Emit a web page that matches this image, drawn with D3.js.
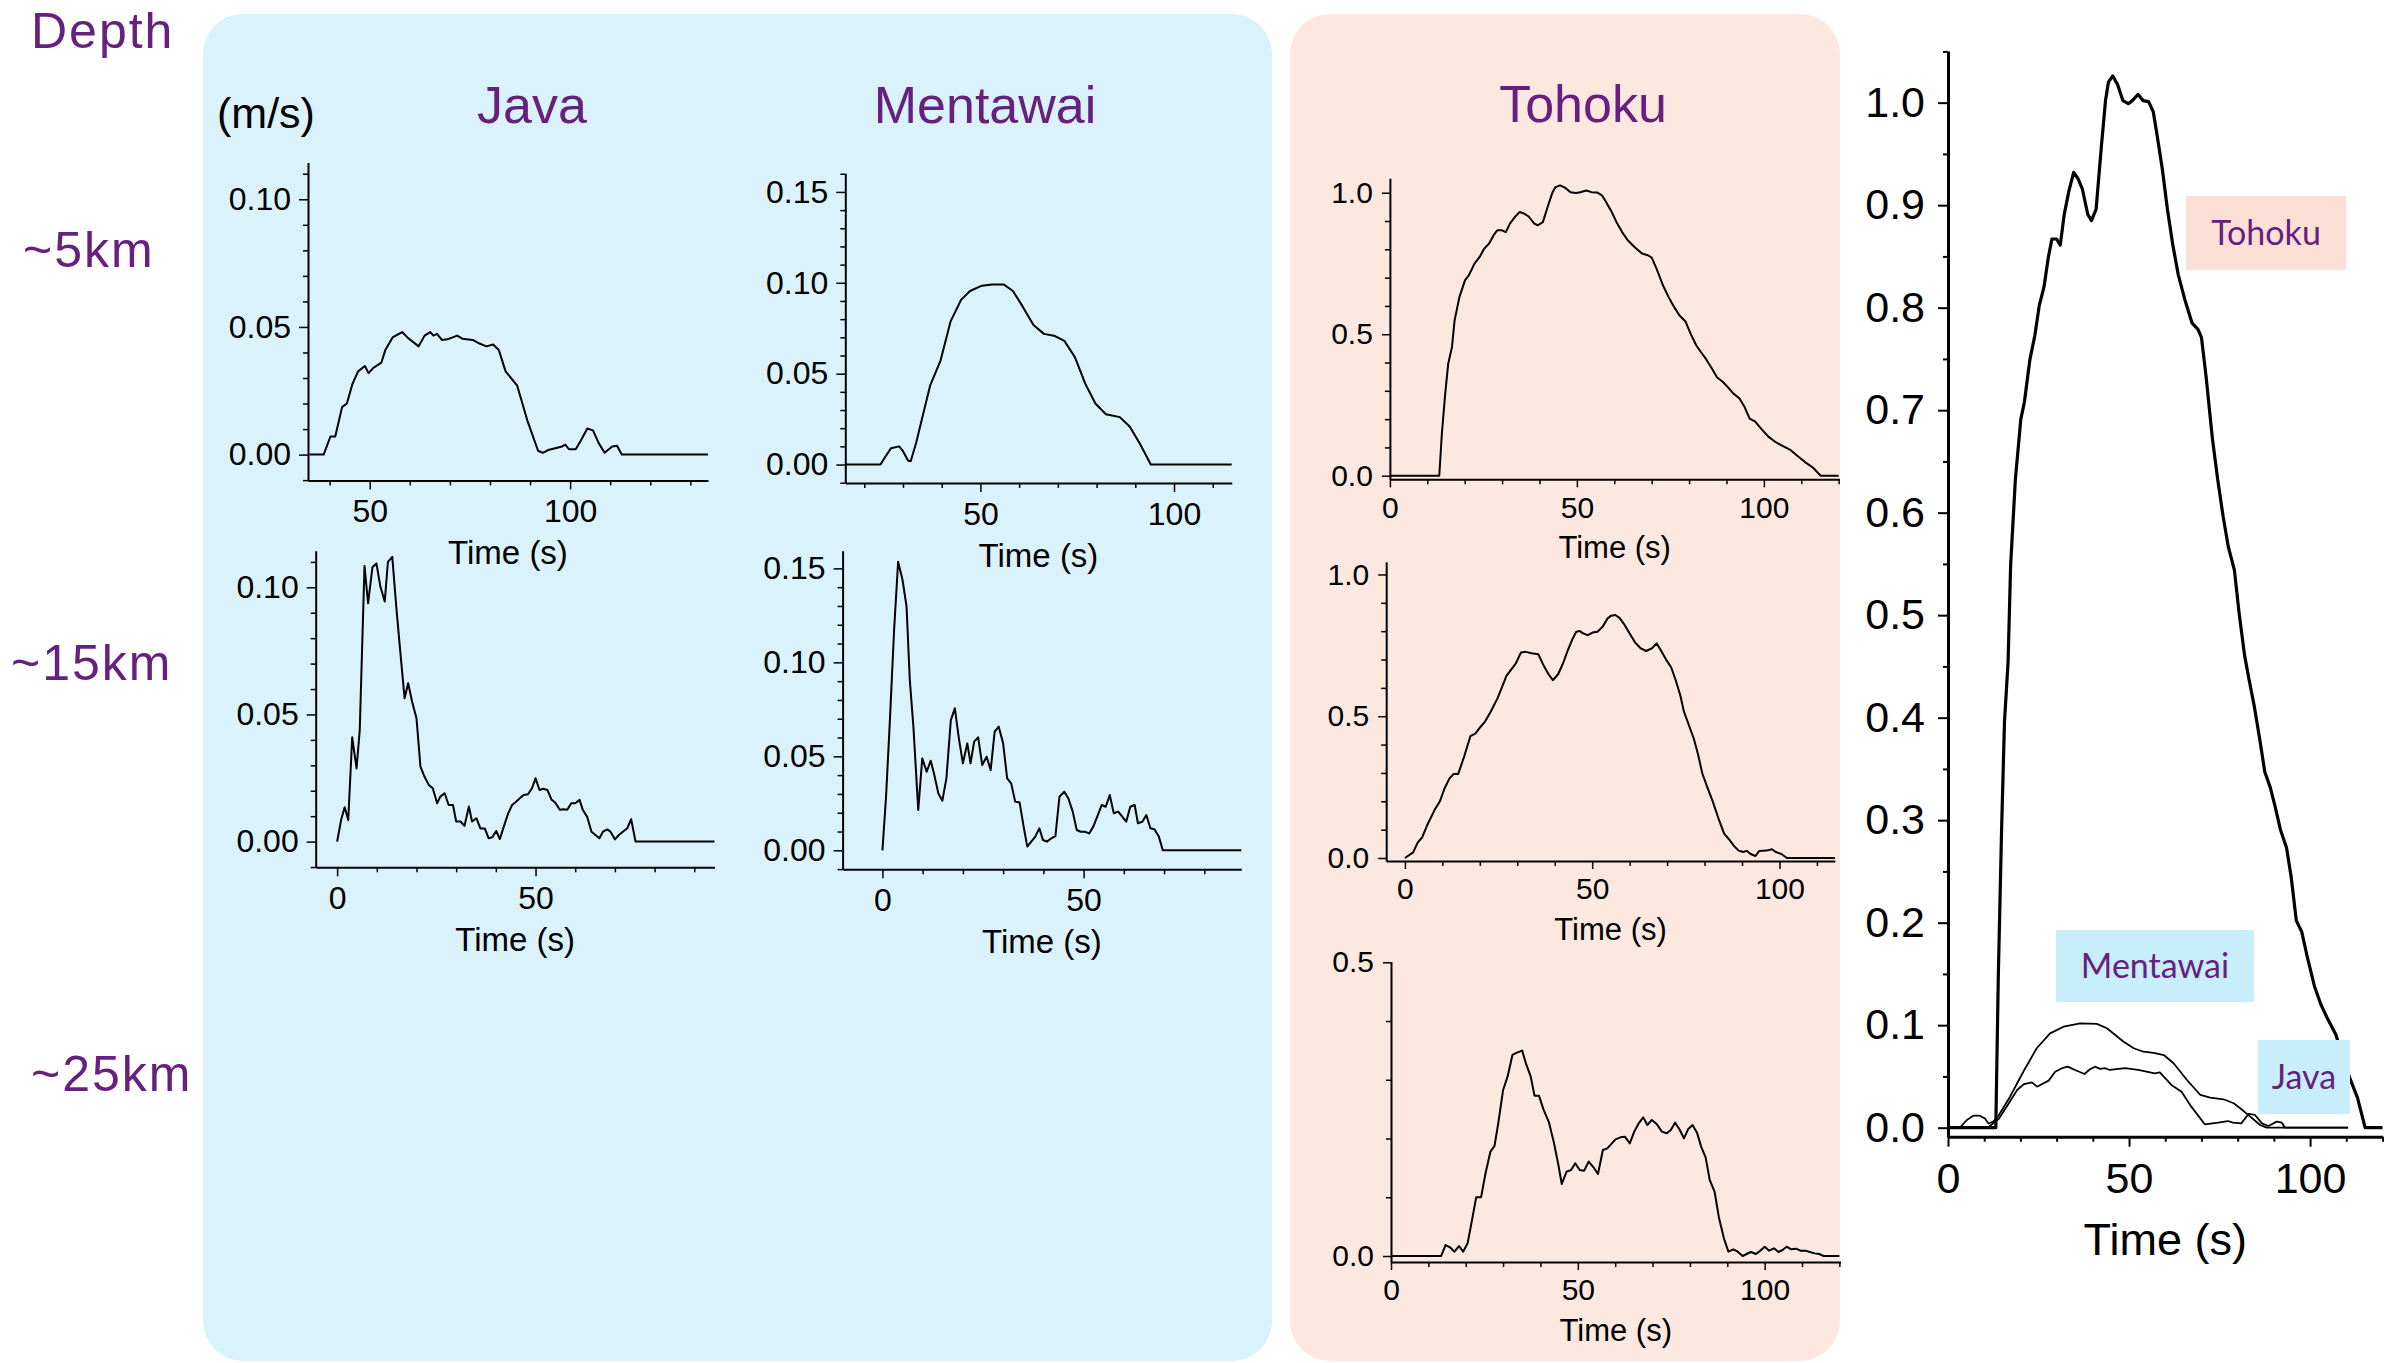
<!DOCTYPE html>
<html>
<head>
<meta charset="utf-8">
<script src="https://cdn.jsdelivr.net/npm/d3@7"></script>
<style>
  body { margin: 0; background: #ffffff; }
  svg { display: block; }
</style>
</head>
<body>
<svg id="fig" width="2397" height="1363"></svg>
<script>
// ---------------------------------------------------------------
// Slip-rate time functions, [time (s), slip rate (m/s)]
// ---------------------------------------------------------------
const javaShallow = [[35,0],[38.5,0],[40.2,.0071],[41.4,.0071],[43.1,.0186],[44.3,.020],[45.7,.0277],[47.1,.0326],[48.8,.0347],[49.7,.0319],[50.9,.034],[52.9,.036],[53.9,.041],[55.7,.0459],[58.1,.048],[59.4,.0459],[62.2,.0424],[63.7,.0466],[65.1,.048],[65.9,.0466],[66.8,.0473],[68.0,.0449],[69.4,.0452],[70.7,.0459],[71.8,.0466],[73.1,.0454],[75.7,.0449],[77.4,.0435],[79.1,.0424],[80.8,.0431],[82.2,.041],[83.9,.0326],[86.8,.027],[89.4,.013],[92.0,.0015],[93.2,.0007],[94.5,.0018],[96.3,.0025],[98.0,.0032],[98.8,.0039],[99.7,.0021],[101.4,.0021],[102.6,.0053],[104.3,.0102],[105.7,.0095],[107.1,.0046],[108.6,.0007],[110.5,.0032],[111.7,.0035],[112.9,0],[134.4,0]];

const mentawaiShallow = [[15.1,0],[24.2,0],[25.4,.0041],[26.9,.009],[29.0,.010],[29.9,.0077],[31.3,.0022],[32.0,.0018],[33.4,.012],[35.2,.0277],[37.0,.0434],[39.7,.0572],[42.3,.0788],[45.0,.0906],[47.3,.0955],[50.4,.0984],[53.0,.099],[56.1,.099],[58.4,.0955],[61.0,.0866],[63.7,.0768],[66.4,.0719],[69.0,.0709],[71.7,.068],[74.4,.0591],[77.1,.0444],[79.7,.0336],[82.4,.0277],[86.0,.0261],[88.6,.0208],[91.3,.011],[94.0,0],[114.9,0]];

const javaMid = [[0,0],[1.0,.0085],[1.9,.0135],[2.8,.0085],[3.8,.041],[4.9,.0288],[5.7,.0439],[6.9,.1084],[7.8,.0937],[8.9,.1079],[9.9,.1094],[10.9,.1003],[12.0,.0944],[12.8,.110],[13.9,.112],[14.9,.0924],[15.8,.0767],[17.0,.0564],[17.9,.0623],[18.9,.055],[20.0,.0485],[21.0,.0295],[22.0,.0256],[23.1,.0223],[24.1,.021],[25.2,.0151],[26.0,.0177],[27.1,.019],[28.1,.0144],[29.2,.0144],[30.0,.0079],[31.1,.0079],[32.1,.0062],[33.2,.0138],[34.0,.0079],[35.1,.0092],[36.1,.0052],[37.2,.0052],[38.2,.0013],[39.1,.0017],[40.1,.0042],[41.0,.001],[42.0,.0059],[43.1,.0111],[44.1,.0144],[45.1,.0157],[46.2,.0173],[47.0,.0183],[48.1,.0186],[49.1,.021],[50.0,.0249],[51.0,.0203],[51.9,.0208],[53.0,.0203],[54.0,.0166],[55.0,.0153],[56.1,.0125],[57.1,.0127],[58.0,.0125],[59.0,.0151],[60.0,.0151],[61.1,.0164],[61.9,.0125],[63.0,.0098],[64.1,.0039],[65.1,.0026],[66.1,.0013],[67.0,.0039],[68.1,.0048],[68.9,.0039],[70.0,.0009],[71.0,.0026],[72.0,.0039],[73.1,.0052],[74.1,.0088],[75.2,0],[95.1,0]];

const mentawaiMid = [[0,0],[0.9,.0285],[1.9,.0711],[2.9,.1172],[3.9,.1535],[5.0,.1438],[6.0,.1296],[6.8,.0906],[7.7,.0658],[8.9,.0215],[9.9,.0489],[11.0,.0418],[12.0,.0477],[12.8,.041],[13.9,.0303],[14.9,.0264],[15.9,.0383],[17.0,.0693],[18.0,.0755],[19.0,.0596],[20.0,.0463],[21.1,.0569],[21.9,.0463],[22.8,.0578],[23.8,.0601],[24.8,.0454],[25.9,.0498],[26.9,.0427],[27.9,.0631],[28.9,.0658],[30.0,.0569],[31.0,.0383],[32.0,.0356],[33.0,.0259],[34.1,.0254],[35.1,.0126],[36.0,.002],[37.0,.0046],[38.0,.0073],[39.0,.0117],[39.9,.0055],[40.9,.0046],[42.0,.0064],[43.0,.0076],[44.0,.0285],[45.2,.0312],[46.2,.0277],[47.3,.0206],[48.3,.0108],[49.3,.0099],[50.3,.0099],[51.4,.009],[52.4,.0126],[53.4,.0179],[54.5,.0241],[55.5,.0232],[56.5,.0294],[57.5,.0197],[58.6,.0206],[59.6,.0179],[60.6,.0152],[61.6,.0232],[62.7,.0241],[63.5,.0144],[64.6,.0152],[65.6,.0188],[66.6,.0117],[67.6,.0112],[68.7,.0073],[69.7,0],[89.2,0]];

const tohokuShallow = [[0,0],[13.2,0],[13.9,.149],[14.8,.291],[15.6,.396],[16.6,.455],[17.3,.549],[18.6,.632],[20.1,.691],[21.1,.708],[22.6,.749],[24.0,.773],[25.2,.802],[26.5,.820],[27.7,.849],[28.7,.867],[30.0,.867],[31.0,.861],[32.1,.891],[33.4,.914],[34.7,.932],[35.9,.926],[37.1,.916],[38.6,.891],[39.6,.885],[40.9,.896],[42.3,.955],[43.5,1.002],[44.3,1.020],[45.5,1.026],[46.8,1.018],[48.3,1.002],[49.8,.999],[50.9,1.002],[52.5,1.008],[53.9,1.002],[55.4,1.001],[56.7,.991],[57.8,.967],[59.2,.935],[60.6,.896],[62.1,.861],[63.6,.832],[65.4,.808],[67.4,.785],[69.0,.779],[70.0,.771],[71.3,.732],[73.0,.673],[74.5,.632],[76.0,.596],[77.4,.567],[79.1,.544],[80.4,.502],[81.9,.461],[83.1,.438],[84.6,.411],[86.1,.379],[87.5,.347],[89.0,.332],[90.3,.314],[91.8,.291],[93.5,.273],[94.8,.244],[96.2,.202],[97.7,.191],[99.2,.167],[101.2,.138],[103.0,.120],[104.6,.108],[107.1,.091],[109.1,.069],[110.9,.049],[113.1,.029],[115.2,0],[120,0]];

const tohokuMid = [[0,0],[2.2,.02],[3.4,.054],[4.6,.073],[6.1,.12],[7.9,.169],[9.3,.199],[10.6,.246],[11.9,.281],[13.0,.296],[14.2,.296],[15.8,.357],[17.5,.43],[18.8,.439],[20.2,.463],[21.4,.481],[22.9,.516],[24.7,.563],[25.9,.602],[27.1,.642],[28.4,.665],[29.6,.686],[31.0,.725],[32.3,.727],[33.8,.722],[35.6,.719],[37.0,.68],[38.3,.649],[39.5,.627],[40.9,.648],[42.2,.686],[43.5,.733],[44.7,.771],[45.7,.797],[46.6,.801],[47.6,.792],[48.8,.786],[50.1,.795],[51.4,.798],[52.8,.816],[54.1,.845],[55.0,.854],[56.2,.857],[57.3,.847],[58.5,.825],[60.0,.792],[61.5,.759],[63.0,.739],[64.4,.73],[65.9,.739],[67.2,.757],[68.4,.731],[69.9,.696],[71.1,.672],[72.3,.627],[73.5,.575],[74.5,.516],[75.8,.469],[77.1,.422],[78.3,.363],[79.4,.298],[80.7,.251],[82.2,.199],[83.7,.14],[85.2,.087],[86.7,.063],[87.9,.042],[89.1,.026],[90.3,.021],[91.3,.025],[92.3,.014],[93.6,.007],[94.6,.025],[96.5,.026],[98.0,.031],[99.0,.021],[100.5,.014],[102.0,0],[114.8,0]];

const tohokuDeep = [[0,0],[13.4,0],[14.6,.0187],[15.8,.0148],[17.0,.0074],[18.2,.017],[19.3,.0074],[20.5,.0216],[21.6,.0585],[22.8,.0999],[24.1,.0999],[25.3,.1408],[26.6,.1776],[27.7,.1873],[28.7,.2259],[30.0,.2826],[31.2,.3053],[32.5,.3422],[33.7,.3462],[35.1,.3496],[36.1,.3280],[37.4,.3053],[38.4,.2730],[39.6,.2730],[40.8,.2497],[42.3,.2270],[43.6,.1930],[44.8,.1549],[45.7,.1226],[47.0,.1436],[48.2,.1464],[49.3,.1578],[50.5,.1464],[51.7,.1453],[52.9,.1606],[54.2,.1510],[55.4,.1396],[56.7,.1805],[57.9,.1833],[59.1,.1918],[60.1,.1986],[61.4,.2020],[62.6,.2032],[63.9,.1918],[65.1,.2117],[66.3,.2259],[67.5,.2361],[68.6,.2230],[69.8,.2316],[71.1,.2247],[72.5,.2117],[73.8,.2089],[74.9,.2145],[76.0,.2270],[77.2,.2157],[78.4,.2003],[79.5,.2157],[80.7,.2230],[81.9,.2100],[83.0,.1862],[84.2,.1680],[85.3,.1294],[86.6,.1095],[87.8,.0641],[89.1,.0301],[90.3,.0074],[91.6,.0114],[92.8,.0074],[94.1,0],[95.2,.0034],[96.3,.0068],[97.7,.0034],[98.8,.0091],[100.0,.0159],[101.2,.0091],[102.5,.0131],[103.7,.0068],[104.8,.0102],[105.9,.0159],[107.1,.0114],[108.4,.0125],[109.6,.0091],[110.9,.0091],[112.1,.0068],[113.4,.0045],[114.6,.0034],[115.8,0],[120,0]];

// Shallow-slip comparison curves for the combined plot
const javaCompare = [[0,0],[11.0,0],[14.1,.009],[16.8,.0238],[19.1,.0368],[21.0,.0426],[23.2,.0442],[24.6,.040],[26.0,.0426],[27.8,.0459],[29.6,.0546],[31.5,.058],[33.1,.0595],[35.1,.0563],[37.7,.0524],[39.2,.057],[40.6,.0595],[42.0,.0573],[43.4,.058],[44.7,.0563],[48.9,.058],[52.5,.0563],[57.1,.053],[58.5,.054],[61.7,.0417],[64.5,.0351],[67.2,.0205],[70.9,.0033],[74.6,.0049],[77.3,.0065],[78.7,.0049],[81.0,.0042],[83.0,.0134],[84.8,.0124],[86.7,.0042],[88.5,.0016],[90.8,.0059],[92.2,.0049],[93.1,0],[110.5,0]];

const mentawaiCompare = [[0,0],[3.3,0],[5.2,.0075],[7.0,.0117],[8.8,.0117],[10.2,.009],[11.2,.004],[12.5,.006],[13.9,.0114],[17.1,.030],[20.8,.0546],[24.5,.0775],[28.2,.092],[31.9,.0985],[36.5,.1018],[41.1,.1012],[43.9,.097],[48.5,.0839],[51.3,.0775],[54.0,.0741],[56.8,.073],[59.6,.0709],[62.3,.0628],[66.0,.0465],[69.7,.0319],[72.4,.0293],[76.1,.0277],[78.9,.0238],[80.7,.019],[83.4,.011],[86.2,.0026],[88,0],[110.5,0]];

// Tick values
const xTicksShallow = [50, 100];
const xTicksMid = [0, 50];
const xTicksTohoku = [0, 50, 100];
const yTicksJava = [0, 0.05, 0.10];
const yTicksMentawai = [0, 0.05, 0.10, 0.15];
const yTicksTohoku = [0, 0.5, 1.0];
const yTicksTohokuDeep = [0, 0.5];
const yTicksCompare = [0, 0.1, 0.2, 0.3, 0.4, 0.5, 0.6, 0.7, 0.8, 0.9, 1.0];

// Text
const regionTitles = ["Java", "Mentawai", "Tohoku"];
const depthLabels = ["Depth", "~5km", "~15km", "~25km"];
const unitLabel = "(m/s)";
const timeLabel = "Time (s)";

// ---------------------------------------------------------------
const svg = d3.select("#fig");
const PURPLE = "#66217f";
const NUM_FONT = "'Liberation Sans', Arial, Helvetica, sans-serif";

// Background blocks
svg.append("rect").attr("x", 203).attr("y", 14).attr("width", 1069).attr("height", 1347)
  .attr("rx", 40).attr("fill", "#d9f2fb");
svg.append("rect").attr("x", 1290).attr("y", 14).attr("width", 550).attr("height", 1347)
  .attr("rx", 40).attr("fill", "#fde8e0");

// Depth labels
const depthPos = [[31, 48], [23, 267], [11, 680], [31, 1091]];
depthLabels.forEach((t, i) => {
  svg.append("text").attr("x", depthPos[i][0]).attr("y", depthPos[i][1])
    .attr("font-family", NUM_FONT).attr("font-size", 50).attr("letter-spacing", 2)
    .attr("fill", PURPLE).text(t);
});

// Region titles
const titlePos = [[532, 123], [985, 123], [1583, 122]];
regionTitles.forEach((t, i) => {
  svg.append("text").attr("x", titlePos[i][0]).attr("y", titlePos[i][1])
    .attr("text-anchor", "middle").attr("font-family", NUM_FONT).attr("font-size", 52)
    .attr("fill", PURPLE).text(t);
});
svg.append("text").attr("x", 217).attr("y", 128).attr("font-family", NUM_FONT)
  .attr("font-size", 43).attr("fill", "#000").text(unitLabel);

function minorRange(lo, hi, step) {
  const out = [];
  const n0 = Math.ceil(lo / step - 1e-9), n1 = Math.floor(hi / step + 1e-9);
  for (let n = n0; n <= n1; n++) out.push(+(n * step).toFixed(6));
  return out;
}

// Draw one small time-function plot
function drawPanel(p) {
  const x = d3.scaleLinear().domain(p.xd).range(p.xr);
  const y = d3.scaleLinear().domain(p.yd).range(p.yr);
  const g = svg.append("g");
  const fs = p.font;

  // minor ticks
  g.append("g").attr("transform", `translate(0,${p.yr[0]})`)
    .call(d3.axisBottom(x).tickValues(minorRange(p.xd[0], p.xd[1], 10).filter(v => !p.xTicks.includes(v)))
      .tickSize(p.minor).tickFormat(""))
    .call(s => s.select(".domain").remove());
  g.append("g").attr("transform", `translate(${p.xr[0]},0)`)
    .call(d3.axisLeft(y).tickValues(minorRange(p.yd[0], p.yd[1], p.yStep).filter(v => !p.yTicks.some(t => Math.abs(t - v) < 1e-6)))
      .tickSize(p.minor).tickFormat(""))
    .call(s => s.select(".domain").remove());

  // major axes
  const xa = g.append("g").attr("transform", `translate(0,${p.yr[0]})`)
    .call(d3.axisBottom(x).tickValues(p.xTicks).tickSize(p.major).tickSizeOuter(0)
      .tickPadding(p.xPad).tickFormat(d3.format("d")));
  const ya = g.append("g").attr("transform", `translate(${p.xr[0]},0)`)
    .call(d3.axisLeft(y).tickValues(p.yTicks).tickSize(p.major).tickSizeOuter(0)
      .tickPadding(p.yPad).tickFormat(d3.format(p.yFmt)));
  [xa, ya].forEach(a => {
    a.selectAll("text").attr("font-family", NUM_FONT).attr("font-size", fs).attr("fill", "#000");
    a.select(".domain").attr("stroke", "#000").attr("stroke-width", p.axisW);
  });
  g.selectAll(".tick line").attr("stroke", "#000").attr("stroke-width", p.tickW);

  // axis title
  g.append("text").attr("x", (p.xr[0] + p.xr[1]) / 2).attr("y", p.yr[0] + p.titleDy)
    .attr("text-anchor", "middle").attr("font-family", NUM_FONT).attr("font-size", p.titleFont)
    .attr("fill", "#000").text(timeLabel);

  const line = d3.line().x(d => x(d[0])).y(d => y(d[1]));
  p.series.forEach(s => {
    g.append("path").datum(s.data).attr("d", line).attr("fill", "none")
      .attr("stroke", "#000").attr("stroke-width", s.w).attr("stroke-linejoin", "round");
  });
  return { x, y, g };
}

const smallStyle = { major: 9, minor: 5, xPad: 10, yPad: 8, axisW: 2, tickW: 1.5, font: 32, titleFont: 33, titleDy: 84 };
const tohokuStyle = { major: 8, minor: 5, xPad: 9, yPad: 9, axisW: 2, tickW: 1.5, font: 30, titleFont: 31, titleDy: 79 };

drawPanel(Object.assign({}, smallStyle, {
  xd: [34.6, 134.4], xr: [308, 708], yd: [-0.0101, 0.1144], yr: [480.4, 162.5],
  xTicks: xTicksShallow, yTicks: yTicksJava, yStep: 0.01, yFmt: ".2f",
  series: [{ data: javaShallow, w: 2 }]
}));
drawPanel(Object.assign({}, smallStyle, {
  xd: [15.1, 114.9], xr: [845.3, 1231.7], yd: [-0.0101, 0.1603], yr: [482.9, 173.2],
  xTicks: xTicksShallow, yTicks: yTicksMentawai, yStep: 0.01, yFmt: ".2f",
  series: [{ data: mentawaiShallow, w: 2 }]
}));
drawPanel(Object.assign({}, smallStyle, {
  xd: [-5.4, 95.1], xr: [315.7, 714.5], yd: [-0.0101, 0.1144], yr: [867.3, 550.7],
  xTicks: xTicksMid, yTicks: yTicksJava, yStep: 0.01, yFmt: ".2f",
  series: [{ data: javaMid, w: 2 }]
}));
drawPanel(Object.assign({}, smallStyle, {
  xd: [-9.9, 89.2], xr: [842.6, 1241.3], yd: [-0.0101, 0.1594], yr: [869.3, 550.7],
  xTicks: xTicksMid, yTicks: yTicksMentawai, yStep: 0.01, yFmt: ".2f",
  series: [{ data: mentawaiMid, w: 2 }]
}));
drawPanel(Object.assign({}, tohokuStyle, {
  xd: [0, 120.2], xr: [1389.9, 1839.4], yd: [-0.0127, 1.051], yr: [479.3, 178.3],
  xTicks: xTicksTohoku, yTicks: yTicksTohoku, yStep: 0.1, yFmt: ".1f",
  series: [{ data: tohokuShallow, w: 2 }]
}));
drawPanel(Object.assign({}, tohokuStyle, {
  xd: [-5.0, 114.8], xr: [1386.2, 1834.9], yd: [-0.0106, 1.045], yr: [861, 561.7],
  xTicks: xTicksTohoku, yTicks: yTicksTohoku, yStep: 0.1, yFmt: ".1f",
  series: [{ data: tohokuMid, w: 2 }]
}));
drawPanel(Object.assign({}, tohokuStyle, {
  xd: [0, 120.3], xr: [1391, 1840.5], yd: [-0.0102, 0.501], yr: [1262, 961.7],
  xTicks: xTicksTohoku, yTicks: yTicksTohokuDeep, yStep: 0.1, yFmt: ".1f",
  series: [{ data: tohokuDeep, w: 2 }]
}));

// Combined comparison plot
const cmp = drawPanel({
  major: 10, minor: 5, xPad: 16, yPad: 13, axisW: 3, tickW: 2, font: 43, titleFont: 45, titleDy: 118,
  xd: [0, 120], xr: [1948, 2382.5], yd: [-0.0088, 1.0504], yr: [1136.7, 51],
  xTicks: xTicksTohoku, yTicks: yTicksCompare, yStep: 0.05, yFmt: ".1f",
  series: [
    { data: mentawaiCompare, w: 1.8 },
    { data: javaCompare, w: 1.8 },
    { data: tohokuShallow, w: 3.2 }
  ]
});

// Legend tags
const LABEL_FONT = "Lato, 'Open Sans', sans-serif";
const tags = [
  { text: "Tohoku", x: 2186, y: 196, w: 160, h: 74, fill: "#fde0d5" },
  { text: "Mentawai", x: 2056, y: 930, w: 198, h: 72, fill: "#c9eefb" },
  { text: "Java", x: 2258, y: 1040, w: 92, h: 74, fill: "#c9eefb" }
];
tags.forEach(t => {
  svg.append("rect").attr("x", t.x).attr("y", t.y).attr("width", t.w).attr("height", t.h).attr("fill", t.fill);
  svg.append("text").attr("x", t.x + t.w / 2).attr("y", t.y + t.h / 2)
    .attr("dy", "0.35em").attr("text-anchor", "middle")
    .attr("font-family", LABEL_FONT).attr("font-size", 34).attr("fill", PURPLE).text(t.text);
});
</script>
</body>
</html>
